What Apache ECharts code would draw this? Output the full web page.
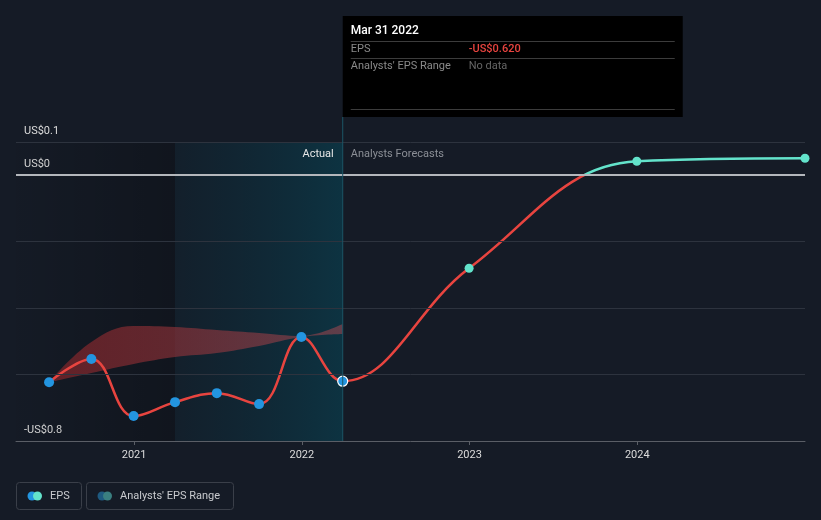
<!DOCTYPE html>
<html><head><meta charset="utf-8">
<script src="https://cdn.jsdelivr.net/npm/echarts@6/dist/echarts.min.js"></script>
<style>html,body{margin:0;padding:0;background:#151b26;}#c{width:821px;height:520px;}</style>
</head><body><div id="c"></div>
<script>
// ---- data ----
const actualDates = ['2020-06-30','2020-09-30','2020-12-31','2021-03-31','2021-06-30','2021-09-30','2021-12-31','2022-03-31'];
const actualEps   = [-0.623, -0.553, -0.725, -0.683, -0.656, -0.689, -0.487, -0.620];
const forecastDates = ['2022-12-31','2023-12-31','2024-12-31'];
const forecastEps   = [-0.280, 0.042, 0.051];
const rangeDates = ['2020-06-30','2020-09-30','2020-12-31','2021-03-31','2021-06-30','2021-09-30','2021-12-31','2022-03-31'];
const rangeLow  = [-0.623, -0.595, -0.568, -0.547, -0.535, -0.514, -0.487, -0.478];
const rangeHigh = [-0.623, -0.502, -0.454, -0.457, -0.466, -0.475, -0.484, -0.448];
const yTickValues = [0.1, 0, -0.8];
const yTickLabels = ['US$0.1', 'US$0', '-US$0.8'];
const gridValues = [0.1, 0, -0.2, -0.4, -0.6];
const xMin = '2020-04-19', xMax = '2024-12-31';
const highlightStart = '2021-03-31', nowDate = '2022-03-31';
const tipTitle = 'Mar 31 2022', tipEps = '-US$0.620', tipRange = 'No data';

const RED = '#e8443f', TEAL = '#63e3cb', BLUE = '#2395e0';
const chart = echarts.init(document.getElementById('c'), null, {renderer: 'canvas'});

const allDates = actualDates.concat(forecastDates);
const allEps = actualEps.concat(forecastEps);

const option = {
  backgroundColor: '#151b26',
  animation: false,
  textStyle: {fontFamily: 'Roboto'},
  grid: {left: 16, right: 16, top: 142, bottom: 79},
  xAxis: {
    type: 'time', min: xMin, max: xMax,
    minInterval: 365 * 24 * 3600 * 1000,
    splitLine: {show: false},
    axisLine: {onZero: false, lineStyle: {color: '#5a5e66', width: 1}},
    axisTick: {show: true, length: 4, lineStyle: {color: '#5a5e66'}},
    axisLabel: {formatter: '{yyyy}', color: '#dcdcdc', fontSize: 11, margin: 9}
  },
  yAxis: {
    type: 'value', min: -0.8, max: 0.1, interval: 0.1,
    splitLine: {show: false}, axisLine: {show: false}, axisTick: {show: false},
    axisLabel: {
      inside: true, margin: 8, color: '#dcdcdc', fontSize: 11,
      verticalAlign: 'bottom', padding: [0, 0, 5, 0],
      formatter: function (v) {
        for (let i = 0; i < yTickValues.length; i++) {
          if (Math.abs(v - yTickValues[i]) < 1e-6) return yTickLabels[i];
        }
        return '';
      }
    }
  },
  series: [
    {
      type: 'line', z: 1, silent: true, symbol: 'none',
      data: actualDates.map((d, i) => [d, actualEps[i]]),
      lineStyle: {opacity: 0},
      markLine: {
        symbol: 'none', silent: true, label: {show: false},
        data: gridValues.map(v => ({yAxis: v, lineStyle: {color: v === 0 ? '#b4b7bc' : '#2d333e', width: v === 0 ? 2 : 1, type: 'solid'}}))
      },
      markArea: {
        silent: true,
        data: [[{xAxis: xMin, itemStyle: {color: {type: 'linear', x: 0, y: 0, x2: 1, y2: 0, colorStops: [{offset: 0, color: 'rgba(0,0,0,0.02)'}, {offset: 1, color: 'rgba(0,0,0,0.22)'}]}}}, {xAxis: highlightStart}]]
      }
    },
    {
      type: 'line', z: 2, silent: true, stack: 'band', stackStrategy: 'all', symbol: 'none', smooth: 0.4,
      data: rangeDates.map((d, i) => [d, rangeLow[i]]),
      lineStyle: {opacity: 0}
    },
    {
      type: 'line', z: 2, silent: true, stack: 'band', stackStrategy: 'all', symbol: 'none', smooth: 0.4,
      data: rangeDates.map((d, i) => [d, rangeHigh[i] - rangeLow[i]]),
      lineStyle: {opacity: 0},
      areaStyle: {opacity: 1, color: {type: 'linear', x: 0, y: 0, x2: 1, y2: 0, colorStops: [{offset: 0, color: 'rgba(150,38,42,0.6)'}, {offset: 1, color: 'rgba(150,70,80,0.6)'}]}}
    },
    {
      name: 'EPS', type: 'line', z: 3, silent: true, symbol: 'none', smooth: 0.4,
      data: allDates.map((d, i) => [d, allEps[i]]),
      lineStyle: {width: 2.5, color: RED}
    },
    {
      type: 'line', z: 4, silent: true, symbol: 'none',
      data: actualDates.map((d, i) => [d, actualEps[i]]),
      lineStyle: {opacity: 0},
      markArea: {
        silent: true,
        data: [[{xAxis: highlightStart, itemStyle: {color: {type: 'linear', x: 0, y: 0, x2: 1, y2: 0, colorStops: [{offset: 0, color: 'rgba(0,70,90,0.10)'}, {offset: 1, color: 'rgba(0,90,110,0.38)'}]}}}, {xAxis: nowDate}]]
      }
    },
    {
      type: 'scatter', z: 5, silent: true, symbolSize: 10,
      data: actualDates.map((d, i) => {
        const p = {value: [d, actualEps[i]]};
        if (i === actualDates.length - 1) p.itemStyle = {borderColor: '#ffffff', borderWidth: 1.2};
        return p;
      }),
      itemStyle: {color: BLUE, opacity: 1}
    },
    {
      type: 'scatter', z: 5, silent: true, symbolSize: 9, clip: false,
      data: forecastDates.map((d, i) => [d, forecastEps[i]]),
      itemStyle: {color: TEAL, opacity: 1}
    }
  ]
};
chart.setOption(option);

const xNow = chart.convertToPixel({xAxisIndex: 0}, nowDate);
const yBottom = chart.convertToPixel({yAxisIndex: 0}, -0.8);
const yTop = chart.convertToPixel({yAxisIndex: 0}, 0.1);
const yZero = chart.convertToPixel({yAxisIndex: 0}, 0);

// line colour: teal above zero, red below (global gradient split at the zero line)
chart.setOption({
  series: [{}, {}, {}, {
    lineStyle: {color: {type: 'linear', global: true, x: 0, y: 0, x2: 0, y2: 520,
      colorStops: [{offset: 0, color: TEAL}, {offset: yZero / 520, color: TEAL}, {offset: yZero / 520, color: RED}, {offset: 1, color: RED}]}}
  }]
});

const font = '11px Roboto';
const tipX = xNow, tipY = 16, tipW = 340, tipH = 101;
chart.setOption({
  graphic: [
    {type: 'line', silent: true, z: 10, shape: {x1: xNow, y1: tipY + tipH, x2: xNow, y2: yBottom}, style: {stroke: '#1b5566', lineWidth: 1}},
    {type: 'rect', silent: true, z: 20, shape: {x: tipX, y: tipY, width: tipW, height: tipH}, style: {fill: '#000000'}},
    {type: 'text', silent: true, z: 21, x: tipX + 8, y: tipY + 15, style: {text: tipTitle, fill: '#ffffff', font: '500 12px Roboto', verticalAlign: 'middle'}},
    {type: 'line', silent: true, z: 21, shape: {x1: tipX + 8, y1: tipY + 25.5, x2: tipX + 332, y2: tipY + 25.5}, style: {stroke: '#3c3c3c', lineWidth: 1}},
    {type: 'text', silent: true, z: 21, x: tipX + 8, y: tipY + 33, style: {text: 'EPS', fill: '#8a8a8a', font: font, verticalAlign: 'middle'}},
    {type: 'text', silent: true, z: 21, x: tipX + 126, y: tipY + 33, style: {text: tipEps, fill: RED, font: '500 11px Roboto', verticalAlign: 'middle'}},
    {type: 'line', silent: true, z: 21, shape: {x1: tipX + 8, y1: tipY + 42.5, x2: tipX + 332, y2: tipY + 42.5}, style: {stroke: '#3c3c3c', lineWidth: 1}},
    {type: 'text', silent: true, z: 21, x: tipX + 8, y: tipY + 50, style: {text: "Analysts' EPS Range", fill: '#8a8a8a', font: font, verticalAlign: 'middle'}},
    {type: 'text', silent: true, z: 21, x: tipX + 126, y: tipY + 50, style: {text: tipRange, fill: '#666666', font: font, verticalAlign: 'middle'}},
    {type: 'line', silent: true, z: 21, shape: {x1: tipX + 8, y1: tipY + 93.5, x2: tipX + 332, y2: tipY + 93.5}, style: {stroke: '#3c3c3c', lineWidth: 1}},
    {type: 'text', silent: true, z: 21, x: xNow - 9, y: yTop + 12, style: {text: 'Actual', fill: '#e6e6e6', font: font, align: 'right', verticalAlign: 'middle'}},
    {type: 'text', silent: true, z: 21, x: xNow + 8, y: yTop + 12, style: {text: 'Analysts Forecasts', fill: '#8b8f96', font: font, verticalAlign: 'middle'}},
    // legend
    {type: 'rect', silent: true, z: 21, shape: {x: 16.5, y: 482.5, width: 65, height: 27, r: 3}, style: {fill: 'none', stroke: '#3a3f49', lineWidth: 1}},
    {type: 'circle', silent: true, z: 22, shape: {cx: 32, cy: 496, r: 4.5}, style: {fill: BLUE}},
    {type: 'circle', silent: true, z: 23, shape: {cx: 37.5, cy: 496, r: 4.5}, style: {fill: TEAL}},
    {type: 'text', silent: true, z: 22, x: 50, y: 496, style: {text: 'EPS', fill: '#c9cbcf', font: font, verticalAlign: 'middle'}},
    {type: 'rect', silent: true, z: 21, shape: {x: 86.5, y: 482.5, width: 147, height: 27, r: 3}, style: {fill: 'none', stroke: '#3a3f49', lineWidth: 1}},
    {type: 'circle', silent: true, z: 22, shape: {cx: 102, cy: 496, r: 4.5}, style: {fill: '#1e5a80'}},
    {type: 'circle', silent: true, z: 23, shape: {cx: 107.5, cy: 496, r: 4.5}, style: {fill: '#3a7f80'}},
    {type: 'text', silent: true, z: 22, x: 120, y: 496, style: {text: "Analysts' EPS Range", fill: '#c9cbcf', font: font, verticalAlign: 'middle'}}
  ]
});
</script>
</body></html>
